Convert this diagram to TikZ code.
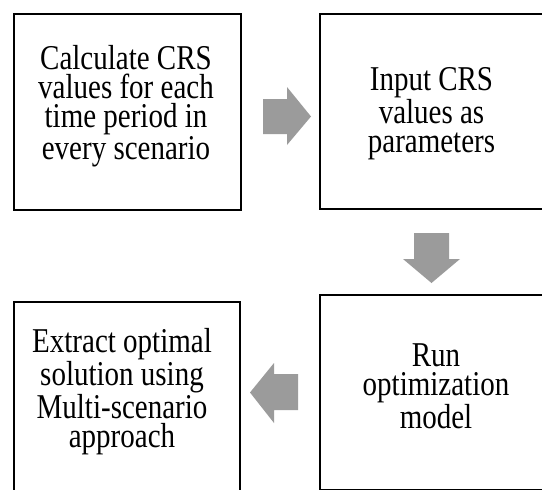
\documentclass[tikz,border=0pt]{standalone}
\usepackage{fontspec}
\setmainfont{Liberation Serif}
\definecolor{arrowgray}{RGB}{155,155,155}
\tikzset{
  box/.style={draw=black, line width=1.8pt, inner sep=0pt, anchor=north west},
  txt/.style={align=center, inner sep=0pt, yscale=1.2, transform shape, font=\fontsize{29}{24.3}\selectfont},
  blockarrow/.style={fill=arrowgray}
}
\begin{document}
\begin{tikzpicture}[x=1pt,y=-1pt]
\useasboundingbox (0,0) rectangle (542,490);
\clip (0,0) rectangle (542,490);
% boxes
\node[box, minimum width=227pt, minimum height=196pt] (b1) at (13,13) {};
\node[box, minimum width=229pt, minimum height=195pt] (b2) at (319,13) {};
\node[box, minimum width=229pt, minimum height=195pt] (b3) at (319,294) {};
\node[box, minimum width=226pt, minimum height=199pt] (b4) at (13,301) {};
% texts
\node[txt] (t1) at (126,106) {Calculate CRS\\values for each\\time period in\\every scenario};
\node[txt] (t2) at (431.5,114) {Input CRS\\values as\\parameters};
\node[txt] (t3) at (436,386.5) {Run\\optimization\\model};
\node[txt] (t4) at (122,392) {Extract optimal\\solution using\\Multi-scenario\\approach};
% block arrows
\fill[blockarrow] (263,99) -- (287,99) -- (287,87) -- (311,116.5) -- (287,145) -- (287,134) -- (263,134) -- cycle;
\fill[blockarrow] (414,233) -- (449,233) -- (449,259) -- (460,259) -- (431.5,283) -- (403,259) -- (414,259) -- cycle;
\fill[blockarrow] (298,374) -- (274,374) -- (274,363) -- (250,392.5) -- (274,423) -- (274,410) -- (298,410) -- cycle;
\end{tikzpicture}
\end{document}
